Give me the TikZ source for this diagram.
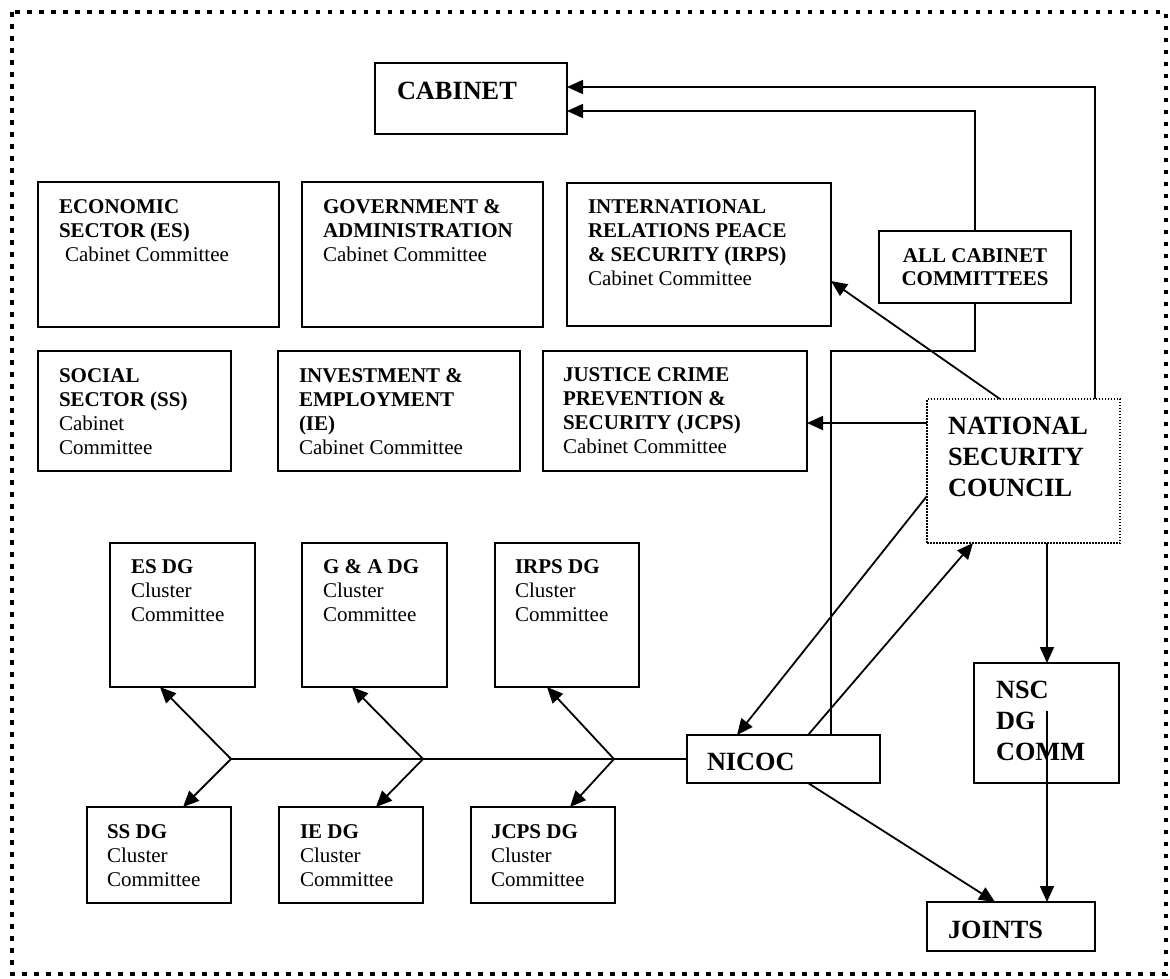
\documentclass[tikz,border=0pt]{standalone}
\usepackage{fontspec}
\setmainfont{Liberation Serif}
\usetikzlibrary{arrows.meta,calc}
\newcommand{\nrm}{\fontsize{21}{24}\selectfont}
\newcommand{\lrg}{\fontsize{26.3}{31}\selectfont}
% width, height, first baseline, left indent, text
\newcommand{\bt}[5]{\parbox[t][#2pt][t]{#1pt}{\raggedright\leftskip=#4pt\relax\rule{0pt}{#3pt}\ignorespaces#5}}
\newcommand{\btc}[4]{\parbox[t][#2pt][t]{#1pt}{\centering\rule{0pt}{#3pt}\ignorespaces#4}}
\begin{document}
\begin{tikzpicture}[x=1pt,y=-1pt,line width=1.8pt,
  box/.style={draw,line width=2pt,inner sep=0pt,outer sep=0pt,anchor=north west},
  nscbox/.style={draw,line width=1.5pt,dash pattern=on 1.5pt off 1.5pt,inner sep=0pt,outer sep=0pt,anchor=north west},
  arr/.style={-{Triangle[length=16pt,width=14pt]}}]
\useasboundingbox (0,0) rectangle (1170,978);
\draw[line width=4pt,dash pattern=on 4.5pt off 7.5pt] (12,12) rectangle (1166,974);

% top level
\node[box] (cab) at (375,63) {\lrg\bt{192}{71}{36}{22}{\bfseries CABINET}};
\node[box] (es) at (38,182) {\nrm\bt{241}{145}{31}{21}{\textbf{ECONOMIC\\SECTOR (ES)}\\\hspace*{6pt}Cabinet Committee}};
\node[box] (ga) at (302,182) {\nrm\bt{241}{145}{31}{21}{\textbf{GOVERNMENT \&\\ADMINISTRATION}\\Cabinet Committee}};
\node[box] (irps) at (567,183) {\nrm\bt{264}{143}{30}{21}{\textbf{INTERNATIONAL\\RELATIONS PEACE\\\& SECURITY (IRPS)}\\Cabinet Committee}};
\node[box] (allc) at (879,231) {\nrm\btc{192}{72}{31}{\textbf{ALL CABINET\\[-1pt]COMMITTEES}}};
\node[box] (ss) at (38,351) {\nrm\bt{193}{120}{31}{21}{\textbf{SOCIAL\\SECTOR (SS)}\\Cabinet\\Committee}};
\node[box] (ie) at (278,351) {\nrm\bt{242}{120}{31}{21}{\textbf{INVESTMENT \&\\EMPLOYMENT\\(IE)}\\Cabinet Committee}};
\node[box] (jcps) at (543,351) {\nrm\bt{264}{120}{30}{20}{\textbf{JUSTICE CRIME\\PREVENTION \&\\SECURITY (JCPS)}\\Cabinet Committee}};
\node[nscbox] (nsc) at (927,399) {\lrg\bt{193}{144}{35}{21}{\bfseries NATIONAL\\SECURITY\\COUNCIL}};

% DG cluster committees
\node[box] (esdg) at (110,543) {\nrm\bt{145}{144}{30}{21}{\textbf{ES DG}\\Cluster\\Committee}};
\node[box] (gadg) at (302,543) {\nrm\bt{145}{144}{30}{21}{\textbf{G \& A DG}\\Cluster\\Committee}};
\node[box] (irpsdg) at (495,543) {\nrm\bt{144}{144}{30}{20}{\textbf{IRPS DG}\\Cluster\\Committee}};
\node[box] (ssdg) at (87,807) {\nrm\bt{144}{96}{31}{20}{\textbf{SS DG}\\Cluster\\Committee}};
\node[box] (iedg) at (279,807) {\nrm\bt{144}{96}{31}{21}{\textbf{IE DG}\\Cluster\\Committee}};
\node[box] (jcpsdg) at (471,807) {\nrm\bt{144}{96}{31}{20}{\textbf{JCPS DG}\\Cluster\\Committee}};

\node[box] (nicoc) at (687,735) {\lrg\bt{193}{48}{35}{20}{\bfseries NICOC}};
\node[box] (nscdg) at (974,663) {\lrg\bt{145}{120}{35}{22}{\bfseries NSC\\DG\\COMM}};
\node[box] (joints) at (927,902) {\lrg\bt{168}{49}{36}{21}{\bfseries JOINTS}};

% helper coordinates
\coordinate (k1) at (1095,87);
\coordinate (k2) at (975,111);
\coordinate (k3) at (831,351);
\coordinate (t1) at (1000,0);
\coordinate (t2) at (0,281);
\coordinate (t3) at (0,423);
\coordinate (t4) at (0,496);
\coordinate (t5) at (737,0);
\coordinate (t6) at (808,0);
\coordinate (t7) at (973,0);
\coordinate (t8) at (1047,0);
\coordinate (t9) at (1047,711);
\coordinate (t10) at (995,0);
\coordinate (b1) at (231,759);
\coordinate (b2) at (423,759);
\coordinate (b3) at (614,759);
\coordinate (e1) at (160,0);
\coordinate (e2) at (183,0);
\coordinate (e3) at (352,0);
\coordinate (e4) at (376,0);
\coordinate (e5) at (547,0);
\coordinate (e6) at (570,0);

% connectors to cabinet
\draw[arr] (nsc.north -| k1) |- (cab.east |- k1);
\draw[arr] (allc.north) |- (cab.east |- k2);
\draw (allc.south) |- (k3) -- (nicoc.north -| k3);
% from NSC
\draw[arr] (nsc.north -| t1) -- (irps.east |- t2);
\draw[arr] (nsc.west |- t3) -- (jcps.east |- t3);
\draw[arr] (nsc.west |- t4) -- (nicoc.north -| t5);
\draw[arr] (nicoc.north -| t6) -- (nsc.south -| t7);
\draw[arr] (nsc.south -| t8) -- (nscdg.north -| t8);
\draw[arr] (t9) -- (joints.north -| t9);
\draw[arr] (nicoc.south -| t6) -- (joints.north -| t10);
% spine
\draw (nicoc.west) -- (b1);
\draw[arr] (b1) -- (esdg.south -| e1);
\draw[arr] (b1) -- (ssdg.north -| e2);
\draw[arr] (b2) -- (gadg.south -| e3);
\draw[arr] (b2) -- (iedg.north -| e4);
\draw[arr] (b3) -- (irpsdg.south -| e5);
\draw[arr] (b3) -- (jcpsdg.north -| e6);
\end{tikzpicture}
\end{document}
